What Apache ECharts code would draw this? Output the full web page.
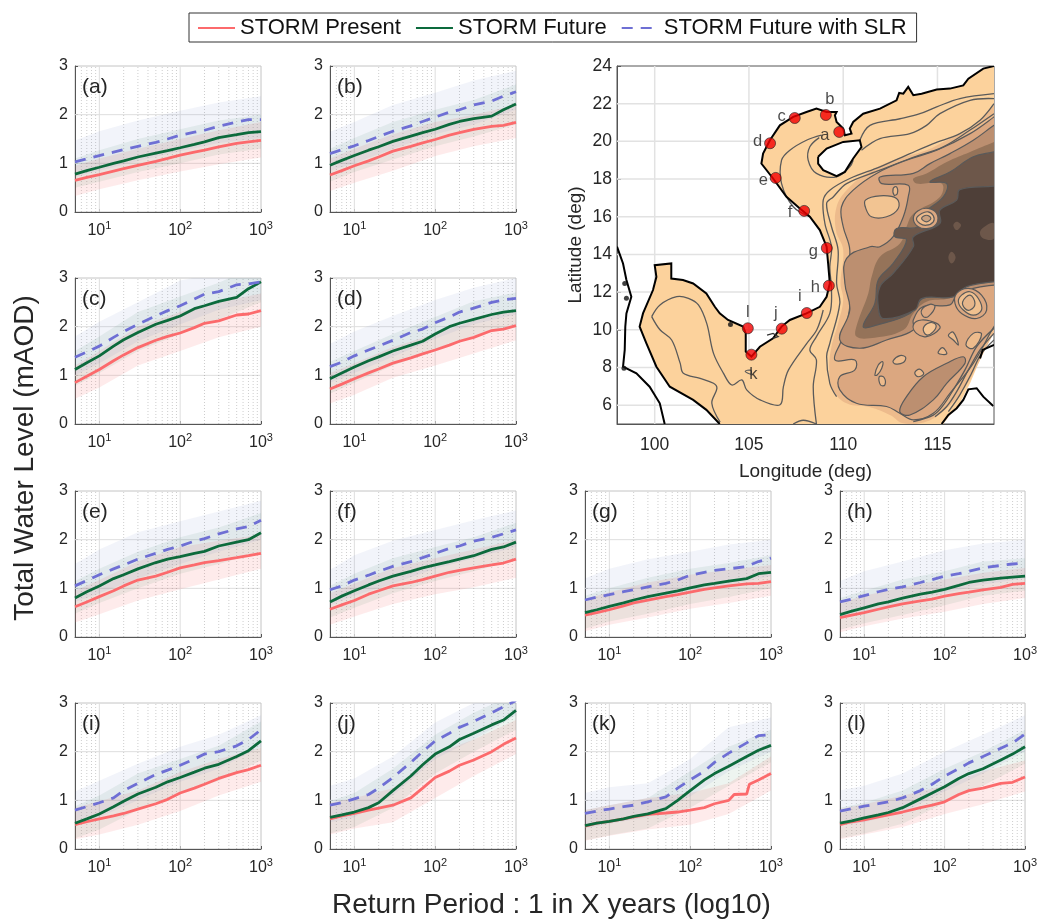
<!DOCTYPE html>
<html><head><meta charset="utf-8">
<style>html,body{margin:0;padding:0;background:#fff}#c{width:1040px;height:919px}</style>
<script src="https://cdn.jsdelivr.net/npm/echarts@6/dist/echarts.min.js"></script>
</head><body><div id="c"></div>
<script>
// ---------- return-level curves ----------
const panelNames = ['a','b','c','d','e','f','g','h','i','j','k','l'];
const seriesNames = ['STORM Present','STORM Future','STORM Future with SLR'];
const rp = [5,7,10,15,20,30,50,70,100,150,200,300,500,700,1000];
const rpBand = [5,10,30,100,300,1000];
const rpKPresent = [5,7,10,15,20,30,50,70,100,150,200,300,350,500,540,700,1000];
const minorX = [6,7,8,9,20,30,40,50,60,70,80,90,200,300,400,500,600,700,800,900];
const majorX = [10,100];
const majorY = [1,2];
const xLabelValues = [10,100,1000];

const aPresent=[.65,.71,.77,.84,.89,.96,1.04,1.10,1.17,1.23,1.27,1.34,1.41,1.44,1.47];
const aFuture=[.78,.85,.92,1.0,1.05,1.13,1.21,1.26,1.32,1.39,1.44,1.53,1.59,1.63,1.65];
const aSlr=[1.03,1.09,1.16,1.23,1.28,1.35,1.43,1.5,1.58,1.64,1.68,1.76,1.85,1.9,1.9];
const bPresent=[.76,.85,.95,1.05,1.13,1.25,1.35,1.42,1.49,1.58,1.63,1.7,1.76,1.78,1.84];
const bFuture=[.96,1.06,1.16,1.27,1.34,1.45,1.56,1.63,1.7,1.8,1.86,1.92,1.97,2.1,2.22];
const bSlr=[1.2,1.28,1.36,1.47,1.55,1.66,1.77,1.86,1.95,2.05,2.1,2.2,2.28,2.38,2.47];
const cPresent=[.85,.98,1.12,1.3,1.42,1.57,1.72,1.8,1.87,1.98,2.07,2.12,2.24,2.26,2.33];
const cFuture=[1.12,1.26,1.4,1.6,1.73,1.88,2.05,2.13,2.22,2.37,2.43,2.52,2.6,2.78,2.92];
const cSlr=[1.37,1.48,1.6,1.78,1.9,2.05,2.22,2.33,2.43,2.57,2.67,2.72,2.86,2.88,2.92];
const dPresent=[.72,.82,.93,1.05,1.13,1.25,1.36,1.44,1.52,1.62,1.7,1.78,1.92,1.95,2.02];
const dFuture=[.93,1.05,1.17,1.3,1.38,1.5,1.62,1.7,1.85,2.0,2.07,2.15,2.25,2.3,2.33];
const dSlr=[1.18,1.27,1.4,1.52,1.6,1.72,1.88,1.95,2.08,2.2,2.3,2.38,2.5,2.55,2.58];
const ePresent=[.62,.72,.83,.95,1.05,1.17,1.25,1.33,1.42,1.48,1.53,1.57,1.63,1.67,1.72];
const eFuture=[.8,.93,1.05,1.2,1.28,1.4,1.53,1.6,1.65,1.72,1.76,1.87,1.95,2.0,2.14];
const eSlr=[1.05,1.16,1.28,1.4,1.48,1.6,1.72,1.8,1.87,1.97,2.02,2.12,2.22,2.27,2.4];
const fPresent=[.57,.66,.75,.88,.95,1.05,1.12,1.18,1.25,1.33,1.37,1.42,1.48,1.52,1.6];
const fFuture=[.72,.84,.95,1.07,1.15,1.25,1.35,1.42,1.48,1.55,1.6,1.67,1.8,1.85,1.95];
const fSlr=[.97,1.05,1.17,1.27,1.35,1.45,1.55,1.63,1.72,1.82,1.87,1.97,2.05,2.12,2.2];
const gPresent=[.45,.5,.56,.64,.7,.76,.83,.87,.92,.98,1.01,1.05,1.09,1.1,1.14];
const gFuture=[.5,.56,.63,.7,.76,.83,.9,.95,1.01,1.07,1.1,1.15,1.2,1.3,1.33];
const gSlr=[.76,.82,.87,.93,.97,1.03,1.1,1.17,1.27,1.33,1.37,1.4,1.45,1.55,1.62];
const hPresent=[.4,.45,.5,.57,.62,.68,.74,.78,.84,.89,.92,.97,1.02,1.08,1.1];
const hFuture=[.46,.53,.6,.68,.72,.8,.88,.92,.98,1.06,1.12,1.17,1.21,1.23,1.25];
const hSlr=[.72,.78,.85,.93,.98,1.03,1.12,1.18,1.25,1.3,1.35,1.42,1.47,1.5,1.52];
const iPresent=[.5,.56,.62,.68,.73,.82,.93,1.02,1.15,1.25,1.33,1.45,1.57,1.63,1.72];
const iFuture=[.53,.62,.72,.87,.98,1.13,1.27,1.38,1.47,1.58,1.66,1.74,1.9,2.02,2.22];
const iSlr=[.8,.87,.95,1.05,1.2,1.35,1.53,1.62,1.72,1.85,1.95,2.0,2.12,2.25,2.45];
const jPresent=[.62,.68,.73,.8,.84,.9,1.05,1.25,1.47,1.6,1.72,1.83,2.0,2.15,2.28];
const jFuture=[.65,.7,.76,.85,.95,1.2,1.5,1.73,1.95,2.1,2.25,2.38,2.55,2.65,2.85];
const jSlr=[.9,.95,1.03,1.12,1.25,1.47,1.78,2.0,2.22,2.38,2.5,2.62,2.8,2.92,3.05];
const kPresent=[.47,.53,.57,.62,.66,.71,.74,.76,.8,.85,.93,1.0,1.12,1.13,1.33,1.42,1.55];
const kFuture=[.48,.53,.57,.62,.67,.72,.83,1.0,1.2,1.42,1.55,1.7,1.9,2.03,2.13];
const kSlr=[.73,.78,.82,.87,.9,.97,1.07,1.25,1.42,1.6,1.78,1.97,2.18,2.33,2.35];
const lPresent=[.5,.56,.6,.66,.7,.76,.85,.9,.97,1.12,1.2,1.25,1.35,1.37,1.48];
const lFuture=[.53,.58,.64,.7,.75,.85,1.03,1.15,1.28,1.45,1.55,1.65,1.83,1.95,2.1];
const lSlr=[.78,.83,.88,.93,.97,1.05,1.2,1.33,1.5,1.65,1.77,1.9,2.07,2.18,2.36];

// ---------- uncertainty bands (low, high) ----------
const aPL=[.33,.47,.65,.83,.98,1.12], aPH=[.95,1.1,1.3,1.5,1.68,1.85], aFL=[.5,.62,.82,1.0,1.18,1.3], aFH=[1.1,1.27,1.5,1.7,1.88,2.0], aSL=[.72,.85,1.05,1.25,1.42,1.52], aSH=[1.47,1.66,1.88,2.08,2.25,2.38];
const bPL=[.43,.6,.85,1.15,1.35,1.52], bPH=[1.1,1.3,1.6,1.85,2.0,2.2], bFL=[.62,.82,1.08,1.35,1.55,1.8], bFH=[1.3,1.52,1.85,2.1,2.3,2.62], bSL=[.85,1.0,1.3,1.6,1.8,2.1], bSH=[1.65,1.85,2.2,2.45,2.7,2.9];
const cPL=[.52,.75,1.2,1.5,1.78,2.0], cPH=[1.2,1.5,2.0,2.3,2.5,2.68], cFL=[.78,1.05,1.5,1.85,2.15,2.5], cFH=[1.5,1.8,2.3,2.62,2.9,3.3], cSL=[1.0,1.25,1.7,2.05,2.35,2.55], cSH=[1.8,2.1,2.5,2.95,3.1,3.3];
const dPL=[.42,.6,.95,1.2,1.45,1.72], dPH=[1.05,1.25,1.58,1.85,2.12,2.35], dFL=[.62,.85,1.2,1.5,1.82,2.0], dFH=[1.28,1.5,1.85,2.2,2.52,2.7], dSL=[.85,1.05,1.38,1.75,2.05,2.25], dSH=[1.65,1.9,2.22,2.55,2.8,3.0];
const ePL=[.3,.47,.75,.98,1.18,1.4], ePH=[.95,1.17,1.55,1.85,1.98,2.1], eFL=[.48,.7,1.0,1.3,1.5,1.75], eFH=[1.15,1.4,1.75,2.05,2.25,2.55], eSL=[.72,.9,1.2,1.5,1.75,2.0], eSH=[1.5,1.8,2.15,2.38,2.58,2.8];
const fPL=[.25,.42,.68,.88,1.02,1.22], fPH=[.9,1.1,1.42,1.62,1.8,2.0], fFL=[.4,.6,.9,1.15,1.35,1.58], fFH=[1.05,1.3,1.62,1.85,2.05,2.35], fSL=[.65,.85,1.1,1.4,1.62,1.85], fSH=[1.38,1.68,1.98,2.2,2.4,2.6];
const gPL=[.12,.25,.4,.58,.7,.85], gPH=[.78,.92,1.12,1.28,1.38,1.48], gFL=[.17,.32,.48,.68,.82,1.0], gFH=[.85,1.0,1.22,1.4,1.52,1.68], gSL=[.42,.55,.72,.95,1.08,1.25], gSH=[1.2,1.4,1.6,1.75,1.9,2.0];
const hPL=[.1,.22,.38,.52,.68,.8], hPH=[.7,.85,1.02,1.18,1.32,1.42], hFL=[.15,.28,.45,.65,.85,.95], hFH=[.8,.95,1.18,1.35,1.55,1.62], hSL=[.4,.52,.7,.9,1.08,1.2], hSH=[1.15,1.35,1.55,1.78,1.92,2.0];
const iPL=[.2,.3,.5,.78,1.1,1.38], iPH=[.85,.98,1.2,1.58,1.85,2.08], iFL=[.22,.4,.8,1.15,1.4,1.82], iFH=[.88,1.1,1.55,1.85,2.12,2.62], iSL=[.48,.65,1.0,1.38,1.65,2.1], iSH=[1.18,1.4,1.75,2.1,2.35,2.75];
const jPL=[.3,.42,.55,1.05,1.5,1.95], jPH=[.95,1.05,1.25,1.95,2.25,2.65], jFL=[.32,.45,.85,1.55,2.0,2.45], jFH=[.98,1.15,1.65,2.35,2.8,3.2], jSL=[.55,.65,1.1,1.85,2.25,2.75], jSH=[1.3,1.45,1.9,2.6,3.0,3.3];
const kPL=[.17,.27,.4,.5,.72,1.2], kPH=[.8,.9,1.05,1.15,1.35,1.9], kFL=[.18,.28,.42,.85,1.3,1.78], kFH=[.8,.9,1.05,1.6,2.1,2.45], kSL=[.42,.52,.65,1.08,1.6,2.0], kSH=[1.15,1.27,1.35,1.85,2.5,2.7];
const lPL=[.2,.3,.45,.72,.92,1.18], lPH=[.82,.92,1.1,1.3,1.6,1.82], lFL=[.22,.32,.52,.95,1.3,1.75], lFH=[.85,.95,1.2,1.65,2.0,2.45], lSL=[.48,.55,.75,1.18,1.55,2.0], lSH=[1.2,1.3,1.55,2.0,2.35,2.75];

const curves = {a:[aPresent,aFuture,aSlr],b:[bPresent,bFuture,bSlr],c:[cPresent,cFuture,cSlr],d:[dPresent,dFuture,dSlr],e:[ePresent,eFuture,eSlr],f:[fPresent,fFuture,fSlr],g:[gPresent,gFuture,gSlr],h:[hPresent,hFuture,hSlr],i:[iPresent,iFuture,iSlr],j:[jPresent,jFuture,jSlr],k:[kPresent,kFuture,kSlr],l:[lPresent,lFuture,lSlr]};
const bands = {a:[aPL,aPH,aFL,aFH,aSL,aSH],b:[bPL,bPH,bFL,bFH,bSL,bSH],c:[cPL,cPH,cFL,cFH,cSL,cSH],d:[dPL,dPH,dFL,dFH,dSL,dSH],e:[ePL,ePH,eFL,eFH,eSL,eSH],f:[fPL,fPH,fFL,fFH,fSL,fSH],g:[gPL,gPH,gFL,gFH,gSL,gSH],h:[hPL,hPH,hFL,hFH,hSL,hSH],i:[iPL,iPH,iFL,iFH,iSL,iSH],j:[jPL,jPH,jFL,jFH,jSL,jSH],k:[kPL,kPH,kFL,kFH,kSL,kSH],l:[lPL,lPH,lFL,lFH,lSL,lSH]};

// ---------- map (lon, lat) ----------
const coastMain=[[118,24],[117.43,23.86],[116.64,23.33],[116.37,22.97],[115.66,22.8],[114.96,22.75],[114.16,22.53],[113.72,22.45],[113.45,22.89],[113.19,22.53],[112.97,22.57],[112.83,22.18],[111.95,21.74],[111.06,21.47],[110.53,21.03],[110.35,20.68],[110.44,20.41],[110.09,20.32],[110,20.68],[109.65,21.03],[109.56,21.38],[109.65,21.56],[109.12,21.56],[108.58,21.74],[108.05,21.56],[107.35,21.3],[106.64,20.85],[106.11,20.06],[105.75,19.35],[105.66,18.82],[106.28,18.03],[106.99,17.06],[107.7,16.44],[108.23,16],[108.76,15.29],[109.12,14.41],[109.2,13.52],[109.29,12.46],[109.12,11.75],[108.76,11.22],[108.05,10.87],[107.17,10.52],[106.73,10.17],[106.28,9.55],[105.58,9.1],[105.13,8.58],[104.83,8.84],[104.83,9.81],[104.69,10.17],[103.89,10.52],[103.45,10.87],[103.19,11.22],[102.74,11.93],[102.04,12.46],[101.5,12.64],[100.88,12.72],[100.88,13.52],[100,13.43],[100.09,12.81],[99.91,12.11],[99.38,10.87],[99.2,10.17],[99.56,9.28],[100.09,8.04],[100.8,6.98],[102.04,6.28],[102.74,5.75],[103.45,5]];
const seaEdgeEast=[[115.31,5],[115.66,5.48],[116.19,6.1],[116.73,7.16],[117.29,8.49],[118,9.9]];
const hainan=[[108.67,19.18],[109.12,19.62],[110,19.97],[110.88,20.06],[110.97,19.7],[110.53,19.09],[110.09,18.38],[109.65,18.15],[108.94,18.47],[108.67,18.82]];
const coastWest=[[98,14.41],[98.32,13.52],[98.5,12.64],[98.76,11.75],[98.5,10.87],[98.44,10.17],[98.41,8.93],[98.32,8.04],[99.03,7.69],[99.73,6.98],[100.27,6.1],[100.53,5]];
const coastPalawan=[[117.26,8.48],[117.4,8.93],[118,9.2]];
const coastBorneo=[[115.22,5],[115.58,5.48],[116.02,5.84],[116.37,6.28],[116.64,6.84],[117.08,6.9],[117.43,6.45],[117.96,5.96]];
const deltaLine=[[105.96,9.72],[106.28,9.81],[106.55,9.64],[106.28,9.55]];
const islets=[[98.41,12.46],[98.5,11.67],[98.37,7.96],[104.02,10.28]];

const depth1=[[118.6,22.5],[118,21.92],[116.9,20.77],[115.49,20.06],[114.42,19.53],[112.65,19],[111.24,18.3],[110.18,17.41],[109.65,16.53],[109.61,15.29],[110,14.23],[109.86,12.46],[110,11.58],[109.73,10.34],[109.38,9.11],[109.26,7.87],[109.47,6.81],[110.18,6.1],[111.42,5.89],[112.48,5.48],[113.19,5.04],[114.42,5.13],[115.49,5.84],[116.37,6.81],[117.08,8.04],[118,9.81],[118.6,10.5]];
const depth2=[[118.6,21.8],[118,21.3],[116.73,20.41],[114.96,19.53],[113.36,19],[111.77,18.3],[110.53,17.41],[109.91,16.53],[110,15.47],[110.35,14.23],[110.18,12.46],[110.35,11.23],[109.91,9.46],[109.56,8.4],[110.62,8.4],[110.62,7.87],[109.82,7.51],[109.82,6.81],[110.7,6.1],[112.3,5.93],[113,5.57],[113.72,5.22],[114.78,5.57],[115.66,6.63],[116.9,8.22],[118,10.17],[118.6,11]];
const depthSouth=[[113,5.66],[113.36,6.45],[114.25,7.51],[115.49,8.22],[116.37,8.57],[116.46,8.22],[115.49,7.16],[114.78,6.28],[113.54,5.48]];
const depth3=[[118.6,21.2],[118,20.85],[116.9,20.06],[115.66,19.35],[114.6,18.82],[113.72,18.3],[111.95,18.11],[112.04,17.76],[113.45,17.67],[113.45,17.05],[113.19,16],[112.65,14.94],[111.95,14.41],[111.42,14.41],[110.18,13.79],[110.09,12.46],[110.35,11.05],[109.82,9.46],[110.88,9.02],[112.3,9.46],[113.72,9.99],[113.72,10.52],[114.25,11.23],[115.66,11.32],[116.02,11.84],[116.9,12.2],[118,12.37],[118.6,12.4]];
const depth4=[[118.6,20.2],[118,19.97],[116.73,19.44],[115.49,18.91],[114.42,18.3],[113.72,18.03],[113.89,17.76],[115.22,17.76],[115.13,17.05],[113.72,16.16],[113.36,15.47],[113.01,14.58],[111.95,13.87],[111.51,12.81],[111.33,11.93],[110.7,10.17],[110.7,9.64],[111.42,9.55],[113.19,9.99],[113.72,10.87],[114.42,11.49],[115.66,11.67],[116.19,12.02],[116.9,12.46],[118,12.55],[118.6,12.55]];
const depth5=[[118.6,19.6],[118,19.44],[116.9,19.18],[115.66,18.37],[114.6,17.85],[115.49,17.76],[115.31,17.05],[114.25,16.16],[113.98,15.47],[112.83,15.37],[112.74,14.94],[113.36,14.76],[112.65,13.52],[111.86,12.64],[111.68,11.4],[111.06,10.17],[111.77,10.25],[113.54,10.87],[114.25,11.67],[115.66,11.84],[116.55,12.37],[118,12.55],[118.6,12.55]];
const depth6=[[118.6,17.7],[118,17.62],[116.19,17.44],[116.02,16.88],[115.13,16.35],[115.13,15.64],[113.72,14.94],[113.72,14.41],[112.65,13],[111.95,12.29],[111.86,11.23],[112.12,10.6],[113.8,11.05],[114.16,11.66],[115.84,11.75],[116.55,12.29],[118,12.55],[118.6,12.55]];
const spot1=[[115.58,13.84],[115.75,14.14],[115.96,13.84],[115.75,13.52]];
const spot2=[[115.84,15.55],[116.02,15.73],[116.25,15.55],[116.02,15.29]];
const spot3=[[117.26,15.2],[117.61,15.55],[118,15.64],[118,14.85],[117.43,14.85]];
const blobNorth=[[111.18,16.88],[111.95,17.11],[112.83,16.97],[112.92,16.44],[112.3,16],[111.5,16],[111.2,16.44]];
const moundA1=[[113.72,15.91],[113.98,16.32],[114.51,16.44],[114.96,16.17],[114.96,15.64],[114.51,15.38],[113.98,15.47]];
const moundA2=[[113.89,15.91],[114.16,16.17],[114.51,16.26],[114.78,16.05],[114.78,15.73],[114.42,15.55],[114.07,15.64]];
const moundA3=[[114.16,15.91],[114.42,16.08],[114.65,15.91],[114.42,15.73]];
const moundB1=[[115.93,11.4],[116.02,11.93],[116.64,12.2],[117.34,11.84],[117.61,11.05],[117.08,10.6],[116.28,10.87]];
const moundB2=[[116.11,11.49],[116.28,11.84],[116.73,12.02],[117.17,11.66],[117.34,11.05],[116.9,10.78],[116.37,11.05]];
const moundB3=[[116.34,11.49],[116.73,11.84],[116.99,11.4],[116.73,11.05],[116.46,11.13]];
const moundC1=[[113.72,10.25],[114.16,10.52],[114.96,10.34],[115.13,10.08],[114.42,9.64],[113.89,9.81]];
const moundC2=[[114.25,10.08],[114.6,10.38],[114.92,10.25],[114.78,9.9],[114.42,9.73]];
const moundD=[[114.16,11.05],[114.6,11.35],[114.87,11.23],[114.51,10.7],[114.25,10.7]];
const shoal1=[[112.65,17.5],[112.83,17.59],[112.87,17.23],[112.71,17.14]];
const shoal2=[[112.65,8.36],[113.01,8.63],[113.31,8.54],[113.19,8.26],[112.74,8.19]];
const shoal3=[[111.68,7.6],[111.86,8.13],[112.09,8.31],[112.04,7.95],[111.8,7.6]];
const shoal4=[[111.91,7.51],[112.16,7.48],[112.21,7.07],[111.98,7.07]];
const shoal5=[[113.8,7.73],[114.05,7.91],[114.27,7.66],[113.96,7.51]];
const shoal6=[[115.04,8.76],[115.27,9.05],[115.49,8.72]];
const shoal7=[[115.58,9.7],[115.84,9.87],[116.11,9.2],[115.84,9.46]];
const shoal8=[[116.51,9.2],[116.9,9.81],[117.34,9.78],[116.9,9.02]];
const shoal9=[[104.8,7.8],[105.1,7.85],[105.1,7.65]];

const contourShelfA=[[110.88,20.06],[111.42,20.85],[113.01,21.2],[114.07,21.47],[114.96,21.83],[116.19,22.27],[118,22.53]];
const contourShelfB=[[110.97,19.53],[111.95,20.15],[113.54,20.41],[114.42,20.85],[115.13,21.47],[116.73,22.18],[118,22.27]];
const contourShelfC=[[108.58,5],[108.41,6.98],[108.58,8.4],[108.23,8.93],[108.58,9.64],[109.29,10.87],[109.38,12.11],[109.29,13.34],[109.38,14.4],[109.03,15.64],[108.94,16.88],[109.29,17.41],[110.35,18.03],[111.95,18.65],[113.54,19.35],[114.78,19.88],[116.19,20.41],[117.26,21.12],[118,22]];
const contourShelfD=[[109.65,6.45],[109.29,7.16],[109.12,8.58],[109.29,9.28],[109.82,11.4],[109.65,12.46],[109.73,14.23],[109.38,15.47],[109.12,16.7],[109.47,17.05],[110.18,17.76],[111.95,18.47],[113.54,19.09],[115.31,19.71],[116.73,20.6],[118,21.47]];
const contourTonkin=[[108.85,20.33],[108.05,20.06],[107.17,19.53],[106.73,19],[106.73,17.76],[107.35,16.53],[108.23,16]];
const contourHainan=[[108.73,20.2],[108.23,19.71],[108.14,19],[108.58,18.3],[109.65,18.12],[110.35,18.65],[110.53,19]];
const contourGulfA=[[99.84,10.7],[100.28,11.32],[101.17,11.76],[101.79,11.67],[102.32,11.32],[102.76,10.34],[103.12,8.75],[103.65,7.69],[104.09,7.07],[104.62,7.34],[104.88,6.81],[105.59,6.28],[106.65,6.02],[106.83,7],[107.1,7.87],[108.07,9.28],[108.6,10],[108.94,11.05]];
const contourGulfB=[[99.84,10.7],[100.28,10],[100.9,9.46],[101.35,8.23],[101.52,7.69],[102.41,7.42],[103.12,7.16],[103.3,6.89],[103.03,6.1],[103.47,5.1]];
const contourBottom=[[107.35,5],[107.88,5.2],[108.58,5]];
const contourTrough1=[[118,9.81],[117.26,8.93],[116.64,7.87],[116.02,6.72],[115.49,5.93],[114.87,5.39]];
const contourTrough2=[[118,9.46],[117.29,8.67],[116.81,7.69],[116.19,6.55],[115.58,5.66]];
const contourTrough3=[[118,10.08],[117.08,9.11],[116.46,7.87],[115.84,6.81],[115.31,6],[114.78,5.47],[113.72,5.13]];

const siteNames=['a','b','c','d','e','f','g','h','i','j','k','l'];
const siteLon=[109.79,109.08,107.43,106.12,106.42,107.93,109.13,109.24,108.07,106.74,105.13,104.94];
const siteLat=[20.5,21.4,21.24,19.9,18.06,16.31,14.34,12.34,10.89,10.06,8.68,10.08];
const mapLonTicks=[100,105,110,115];
const mapLatTicks=[6,8,10,12,14,16,18,20,22,24];

// ---------- layout and styles ----------
const FONT='"Liberation Sans",Arial,sans-serif', INK='#262626';
const panelLeft=[75,330,585,840], panelTop=[66,278,491,703], PW=186, PH=146;
const panelPos={a:[0,0],b:[1,0],c:[0,1],d:[1,1],e:[0,2],f:[1,2],g:[2,2],h:[3,2],i:[0,3],j:[1,3],k:[2,3],l:[3,3]};
const lineColors=['#FC6A6C','#0C6A3C','#6E6FD4'];
const bandColors=['rgba(250,110,110,0.14)','rgba(15,105,60,0.075)','rgba(85,110,190,0.075)'];
const series=[], grids=[], xAxes=[], yAxes=[], titles=[];

function gridLineSeries(idx, xs, ys, xr, yr, style){
  series.push({type:'custom',xAxisIndex:idx,yAxisIndex:idx,silent:true,clip:true,z:1,
    data:[...xs.map(v=>[v,yr[0]]),...ys.map(v=>[xr[0],v])],
    renderItem:(p,api)=>{
      const a=p.dataIndex<xs.length?[api.value(0),yr[0]]:[xr[0],api.value(1)];
      const b=p.dataIndex<xs.length?[api.value(0),yr[1]]:[xr[1],api.value(1)];
      const A=api.coord(a),B=api.coord(b);
      return {type:'line',shape:{x1:A[0],y1:A[1],x2:B[0],y2:B[1]},style:style};
    }});
}
function bandSeries(idx, lo, hi, color){
  series.push({type:'custom',xAxisIndex:idx,yAxisIndex:idx,silent:true,clip:true,z:2,
    data:rpBand.map((x,i)=>[x,lo[i],hi[i]]),
    renderItem:(p,api)=>{
      if(p.dataIndex!==0) return null;
      const up=rpBand.map((x,i)=>api.coord([x,hi[i]]));
      const dn=rpBand.map((x,i)=>api.coord([x,lo[i]])).reverse();
      return {type:'polygon',shape:{points:up.concat(dn)},style:{fill:color}};
    }});
}
panelNames.forEach((n,idx)=>{
  const [c,r]=panelPos[n], L=panelLeft[c], T=panelTop[r];
  grids.push({left:L,top:T,width:PW,height:PH,show:true,borderColor:'#c4c4c4',borderWidth:1,backgroundColor:'transparent'});
  xAxes.push({type:'log',logBase:10,gridIndex:idx,min:5,max:1000,
    axisLine:{show:true,onZero:false,lineStyle:{color:'#555',width:1}},
    axisTick:{show:true,inside:true,length:3,customValues:xLabelValues,lineStyle:{color:'#555'}},
    minorTick:{show:false},splitLine:{show:false},minorSplitLine:{show:false},
    axisLabel:{show:true,customValues:xLabelValues,margin:8,hideOverlap:false,
      formatter:v=>{const e=Math.round(Math.log10(v));return '{b|10}{s|'+e+'}';},
      rich:{b:{fontFamily:FONT,fontSize:16,color:INK,padding:[3,0,0,0]},s:{fontFamily:FONT,fontSize:11,color:INK,verticalAlign:'top',padding:[0,0,6,0]}}}});
  yAxes.push({type:'value',gridIndex:idx,min:0,max:3,interval:1,
    axisLine:{show:true,lineStyle:{color:'#555',width:1}},axisTick:{show:true,inside:true,length:3,lineStyle:{color:'#555'}},
    splitLine:{show:false},
    axisLabel:{margin:7,fontFamily:FONT,fontSize:16,color:INK}});
  titles.push({text:'('+n+')',left:L+7,top:T+11,padding:0,textStyle:{fontFamily:FONT,fontSize:21,fontWeight:'normal',color:INK}});
  gridLineSeries(idx,majorX,majorY,[5,1000],[0,3],{stroke:'#dedede',lineWidth:1});
  gridLineSeries(idx,minorX,[],[5,1000],[0,3],{stroke:'rgba(90,90,90,0.3)',lineWidth:1,lineDash:[1,2]});
  const b=bands[n];
  bandSeries(idx,b[0],b[1],bandColors[0]);
  bandSeries(idx,b[2],b[3],bandColors[1]);
  bandSeries(idx,b[4],b[5],bandColors[2]);
  curves[n].forEach((vals,si)=>{
    const xs=vals.length===rp.length?rp:rpKPresent;
    series.push({name:seriesNames[si],type:'line',xAxisIndex:idx,yAxisIndex:idx,symbol:'none',showSymbol:false,silent:true,z:3,
      data:xs.map((x,i)=>[x,vals[i]]),
      itemStyle:{color:lineColors[si]},
      lineStyle:si===2?{color:lineColors[si],width:2.8,type:[11,8]}:{color:lineColors[si],width:2.8}});
  });
});

// ---------- map axes ----------
const MI=panelNames.length;
grids.push({left:617,top:66,width:377,height:358,show:true,borderColor:'#555',borderWidth:1,backgroundColor:'transparent'});
xAxes.push({type:'value',gridIndex:MI,min:98,max:118,position:'bottom',
  name:'Longitude (deg)',nameLocation:'middle',nameGap:38,nameTextStyle:{fontFamily:FONT,fontSize:19,color:INK},
  axisLine:{show:true,onZero:false,lineStyle:{color:'#555'}},
  axisTick:{show:true,inside:true,length:4,customValues:mapLonTicks,lineStyle:{color:'#555'}},
  splitLine:{show:false},
  axisLabel:{customValues:mapLonTicks,margin:12,fontFamily:FONT,fontSize:17.5,color:INK}});
yAxes.push({type:'value',gridIndex:MI,min:5,max:24,position:'left',
  name:'Latitude (deg)',nameLocation:'middle',nameGap:32,nameRotate:90,nameTextStyle:{fontFamily:FONT,fontSize:19,color:INK},
  axisLine:{show:true,onZero:false,lineStyle:{color:'#555'}},
  axisTick:{show:true,inside:true,length:4,customValues:mapLatTicks,lineStyle:{color:'#555'}},
  splitLine:{show:false},
  axisLabel:{customValues:mapLatTicks,margin:5,fontFamily:FONT,fontSize:17.5,color:INK}});
gridLineSeries(MI,mapLonTicks,mapLatTicks.slice(0,-1),[98,118],[5,24],{stroke:'#e2e2e2',lineWidth:1.5});

function area(pts,fill,stroke,smooth){
  series.push({type:'custom',xAxisIndex:MI,yAxisIndex:MI,silent:true,clip:true,z:2,data:pts,
    renderItem:(p,api)=>p.dataIndex!==0?null:{type:'polygon',shape:{points:pts.map(q=>api.coord(q)),smooth:smooth===undefined?0.4:smooth},
      style:{fill:fill,stroke:stroke||null,lineWidth:stroke?1.2:0}}});
}
function line(pts,stroke,w,z,smooth){
  series.push({type:'custom',xAxisIndex:MI,yAxisIndex:MI,silent:true,clip:true,z:z||3,data:pts,
    renderItem:(p,api)=>p.dataIndex!==0?null:{type:'polyline',shape:{points:pts.map(q=>api.coord(q)),smooth:smooth||0},
      style:{fill:null,stroke:stroke,lineWidth:w}}});
}
const C0='#FCD29C',C1='#EDBB8C',C2='#DBA780',C3='#BC8F70',C4='#957359',C5='#6D574A',C6='#4E3F38',CL='#5a5a5a';
area(coastMain.concat(seaEdgeEast,[[118,24]]),C0,null,0);
area(depth1,C1,null);
area(depth2,C2,CL);
area(depthSouth,C3,CL);
area(depth3,C3,CL);
area(depth4,C4,null);
area(depth5,C5,CL);
area(depth6,C6,CL);
[spot1,spot2].forEach(s=>area(s,C5));
area(spot3,C5);
area(blobNorth,'#F2C492',CL);
area(moundD,C2,CL);
area(moundA1,C2,CL); area(moundA2,C1,CL); area(moundA3,'#C9A180',CL);
area(moundB1,C2,CL); area(moundB2,'#F0C08F',CL); area(moundB3,'#E5B58A',CL);
area(moundC1,C2,CL); area(moundC2,'#F4C594',CL);
[shoal1,shoal2,shoal3,shoal4,shoal5,shoal6,shoal7,shoal8].forEach(s=>area(s,C1,CL));
area(shoal9,C0,CL);
[contourShelfA,contourShelfB,contourShelfC,contourShelfD,contourTonkin,contourHainan,contourGulfA,contourGulfB,contourBottom,contourTrough1,contourTrough2,contourTrough3].forEach(c=>line(c,CL,1.3,3,0.35));
area(hainan,'#ffffff',null,0);
line(hainan.concat([hainan[0]]),'#000',2,4,0);
[coastMain,coastWest,coastPalawan,coastBorneo].forEach(c=>line(c,'#000',2,4,0));
line(deltaLine,'#333',1.3,4,0);
series.push({type:'scatter',xAxisIndex:MI,yAxisIndex:MI,silent:true,z:4,symbolSize:5,itemStyle:{color:'#111'},data:islets});
const siteLabelPos=[['left',[2,4]],['top',[4,5]],['left',[3,-2]],['left',[4,-2]],['left',[4,3]],['left',[0,2]],['left',[3,3]],['left',[3,2]],['top',[-7,4]],['top',[-6,5]],['bottom',[2,-1]],['top',[0,5]]];
series.push({type:'scatter',xAxisIndex:MI,yAxisIndex:MI,silent:true,z:5,symbolSize:11,
  itemStyle:{color:'#F40000',borderColor:'#222',borderWidth:.8},
  data:siteLon.map((x,i)=>({value:[x,siteLat[i]],name:siteNames[i],
    label:{show:true,formatter:siteNames[i],position:siteLabelPos[i][0],offset:siteLabelPos[i][1],distance:6,fontFamily:FONT,fontSize:16.5,color:'#1c1c1c'}}))});

const chart=echarts.init(document.getElementById('c'),null,{renderer:'canvas',width:1040,height:919});
chart.setOption({
  animation:false,backgroundColor:'#fff',
  title:titles,grid:grids,xAxis:xAxes,yAxis:yAxes,series:series,
  legend:{data:seriesNames,left:189,top:13,orient:'horizontal',selectedMode:false,
    borderColor:'#333',borderWidth:1,padding:[4,10,3,8],itemGap:14,itemWidth:37,itemHeight:14,
    itemStyle:{opacity:0},
    textStyle:{fontFamily:FONT,fontSize:22,color:'#111'}},
  graphic:[
    {type:'text',left:332,top:891,style:{text:'Return Period : 1 in X years (log10)',fontFamily:FONT,fontSize:28,fill:INK}},
    {type:'text',x:25,y:458,rotation:Math.PI/2,style:{text:'Total Water Level (mAOD)',fontFamily:FONT,fontSize:28,fill:INK,textAlign:'center',textVerticalAlign:'middle'}}
  ]
});
</script></body></html>
